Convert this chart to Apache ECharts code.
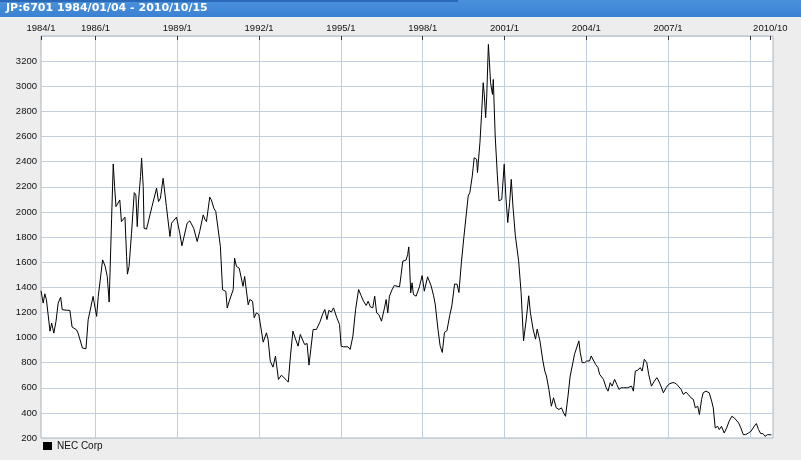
<!DOCTYPE html>
<html>
<head>
<meta charset="utf-8">
<script src="https://cdn.jsdelivr.net/npm/echarts@6/dist/echarts.min.js"></script>
<style>
html,body{margin:0;padding:0;background:#ededed;}
#chart{width:801px;height:460px;}
</style>
</head>
<body>
<div id="chart"></div>
<script>
// Dates as decimal years, closing prices (JPY)
const years = [
1984.00,1984.08,1984.14,1984.20,1984.33,1984.39,1984.47,1984.55,1984.63,1984.72,1984.78,1985.06,1985.14,1985.30,1985.36,1985.43,1985.52,1985.65,1985.73,1985.91,
1986.04,1986.10,1986.26,1986.35,1986.43,1986.50,1986.59,1986.65,1986.70,1986.75,1986.79,1986.89,1986.95,1987.08,1987.14,1987.17,1987.23,1987.32,1987.42,1987.48,
1987.53,1987.58,1987.65,1987.69,1987.75,1987.78,1987.87,1987.94,1988.07,1988.24,1988.31,1988.38,1988.48,1988.60,1988.73,1988.79,1988.97,1989.09,1989.17,1989.24,
1989.36,1989.46,1989.60,1989.73,1989.82,1989.95,1990.01,1990.07,1990.19,1990.25,1990.34,1990.41,1990.50,1990.58,1990.66,1990.70,1990.78,1990.83,1990.92,1991.05,
1991.10,1991.17,1991.27,1991.41,1991.47,1991.60,1991.66,1991.76,1991.82,1991.90,1991.99,1992.15,1992.27,1992.33,1992.41,1992.51,1992.60,1992.71,1992.82,1992.98,
1993.07,1993.15,1993.24,1993.32,1993.43,1993.51,1993.58,1993.67,1993.76,1993.83,1993.98,1994.10,1994.22,1994.34,1994.41,1994.49,1994.56,1994.65,1994.73,1994.85,
1994.95,1995.01,1995.10,1995.26,1995.34,1995.44,1995.54,1995.65,1995.74,1995.83,1995.93,1996.00,1996.08,1996.17,1996.24,1996.31,1996.39,1996.49,1996.60,1996.66,
1996.72,1996.78,1996.88,1996.96,1997.15,1997.21,1997.27,1997.39,1997.45,1997.49,1997.51,1997.56,1997.61,1997.66,1997.76,1997.88,1997.98,1998.06,1998.18,1998.31,
1998.40,1998.46,1998.56,1998.64,1998.72,1998.80,1998.89,1998.99,1999.07,1999.17,1999.26,1999.33,1999.42,1999.51,1999.58,1999.67,1999.73,1999.82,1999.89,1999.98,
2000.01,2000.10,2000.16,2000.22,2000.26,2000.31,2000.35,2000.41,2000.45,2000.49,2000.56,2000.59,2000.66,2000.74,2000.80,2000.90,2000.99,2001.05,2001.12,2001.19,
2001.25,2001.31,2001.40,2001.52,2001.61,2001.70,2001.80,2001.89,2001.95,2002.05,2002.14,2002.20,2002.30,2002.41,2002.48,2002.54,2002.63,2002.72,2002.80,2002.90,
2003.00,2003.09,2003.17,2003.24,2003.33,2003.41,2003.51,2003.57,2003.63,2003.73,2003.78,2003.85,2003.94,2004.02,2004.12,2004.18,2004.24,2004.34,2004.43,2004.49,
2004.56,2004.63,2004.73,2004.80,2004.88,2004.95,2005.04,2005.12,2005.20,2005.28,2005.37,2005.44,2005.52,2005.59,2005.66,2005.73,2005.80,2005.89,2005.98,2006.05,
2006.13,2006.22,2006.29,2006.39,2006.50,2006.59,2006.66,2006.74,2006.83,2006.93,2007.02,2007.15,2007.23,2007.32,2007.39,2007.48,2007.56,2007.66,2007.74,2007.84,
2007.93,2008.00,2008.09,2008.15,2008.23,2008.29,2008.39,2008.45,2008.51,2008.60,2008.66,2008.73,2008.82,2008.88,2008.96,2009.06,2009.15,2009.24,2009.34,2009.43,
2009.49,2009.59,2009.67,2009.76,2009.85,2009.95,2010.04,2010.16,2010.24,2010.32,2010.40,2010.48,2010.56,2010.65,2010.71,2010.79
];
const prices = [
1372,1274,1348,1300,1050,1115,1035,1128,1274,1321,1221,1215,1083,1062,1035,1022,916,911,1141,1327,
1168,1327,1618,1570,1486,1282,1950,2381,2201,2042,2029,2095,1923,1958,1645,1504,1565,1830,2153,2135,
1883,2095,2281,2427,2201,1870,1862,1857,2042,2188,2082,2108,2267,2042,1804,1910,1958,1830,1730,1739,
1910,1928,1870,1764,1843,1976,1942,1923,2117,2095,2029,2003,1857,1724,1380,1393,1367,1234,1300,1380,
1632,1565,1552,1407,1486,1260,1302,1289,1157,1196,1183,963,1037,984,812,764,852,666,700,666,
645,852,1051,998,931,1024,1011,944,952,780,1064,1064,1117,1191,1223,1143,1217,1202,1236,1157,
1104,931,926,926,905,1011,1223,1382,1334,1289,1255,1289,1244,1236,1329,1196,1183,1130,1236,1302,
1196,1329,1382,1414,1403,1501,1608,1616,1661,1721,1634,1355,1435,1342,1329,1403,1493,1369,1483,1411,
1332,1266,1067,934,881,1041,1054,1173,1252,1425,1425,1358,1597,1796,1782,2127,2153,2286,2431,2418,
2312,2551,2776,3028,2935,2750,2922,3333,3187,3028,2935,3054,2604,2286,2087,2100,2379,2127,1915,2074,
2259,2047,1809,1610,1358,974,1146,1332,1199,1067,987,1067,974,813,733,693,587,453,520,440,
427,440,400,373,533,693,800,867,853,973,880,800,800,813,813,853,867,787,760,707,
707,667,600,573,640,613,667,627,587,600,600,587,600,587,613,573,733,740,760,733,
827,800,707,613,653,680,653,613,560,600,627,640,640,627,640,587,547,565,547,520,
507,440,453,387,507,560,573,587,560,493,440,280,293,267,293,240,280,333,373,360,
347,320,280,227,227,240,253,293,315,267,235,235,213,227,221,225
];
const tickLabels = ['1984/1','1986/1','1989/1','1992/1','1995/1','1998/1','2001/1','2004/1','2007/1','2010/10'];
const tickYears  = [1984, 1986, 1989, 1992, 1995, 1998, 2001, 2004, 2007, 2010.75];
const tickMarkYears = [1984, 1986, 1989, 1992, 1995, 1998, 2001, 2004, 2007, 2010, 2010.75];
const gridYears = [1986, 1989, 1992, 1995, 1998, 2001, 2004, 2007, 2010];
const seriesName = 'NEC Corp';
const titleText = 'JP:6701 1984/01/04 - 2010/10/15';

const chart = echarts.init(document.getElementById('chart'), null, {renderer: 'canvas'});
const gridColor = '#c2d0de';
const labelFont = 'Liberation Sans, Arial, sans-serif';

chart.setOption({
  animation: false,
  backgroundColor: '#ededed',
  grid: {
    left: 41, right: 28, top: 36, bottom: 22,
    show: true, backgroundColor: '#ffffff', borderColor: '#aab4be', borderWidth: 1
  },
  legend: {
    left: 43, top: 441, padding: 0,
    itemWidth: 9, itemHeight: 8, icon: 'rect',
    textStyle: {fontFamily: labelFont, fontSize: 10, color: '#111'},
    data: [seriesName]
  },
  graphic: [
    {type: 'rect', left: 0, top: 0, shape: {width: 801, height: 17},
     style: {fill: new echarts.graphic.LinearGradient(0, 0, 0, 1, [
       {offset: 0, color: '#4a91dc'}, {offset: 1, color: '#3a82d2'}])}, silent: true},
    {type: 'rect', left: 0, top: 0, shape: {width: 458, height: 2},
     style: {fill: '#2a68b8'}, silent: true},
    {type: 'text', left: 6, top: 3,
     style: {text: titleText, fill: '#ffffff', font: 'bold 11px "DejaVu Sans", Verdana, sans-serif'}, silent: true}
  ],
  xAxis: [{
    type: 'value', position: 'top', min: 1984, max: 2010.85,
    axisLine: {show: false},
    axisTick: {show: true, inside: true, length: 4, customValues: tickMarkYears, lineStyle: {color: '#333'}},
    axisLabel: {
      customValues: tickYears, margin: 3,
      fontFamily: labelFont, fontSize: 9.5, color: '#111',
      formatter: function (v) {
        const i = tickYears.findIndex(t => Math.abs(t - v) < 1e-6);
        return i >= 0 ? tickLabels[i] : '';
      }
    },
    splitLine: {show: false}
  }, {
    type: 'value', position: 'bottom', min: 1984, max: 2010.85,
    axisLine: {show: false},
    axisTick: {show: false, customValues: gridYears},
    axisLabel: {show: false, customValues: gridYears},
    splitLine: {show: true, lineStyle: {color: gridColor, width: 1}}
  }],
  yAxis: {
    type: 'value', min: 200, max: 3400, interval: 200,
    axisLine: {show: false}, axisTick: {show: false},
    axisLabel: {showMaxLabel: false, showMinLabel: true, margin: 4,
      fontFamily: labelFont, fontSize: 9.5, color: '#111',
      formatter: function (v) { return String(v); }},
    splitLine: {show: true, lineStyle: {color: gridColor, width: 1}}
  },
  series: [{
    name: seriesName, type: 'line', xAxisIndex: 0,
    data: years.map((y, i) => [y, prices[i]]),
    showSymbol: false, symbol: 'none',
    lineStyle: {color: '#000', width: 1},
    itemStyle: {color: '#000'}
  }]
});
</script>
</body>
</html>
